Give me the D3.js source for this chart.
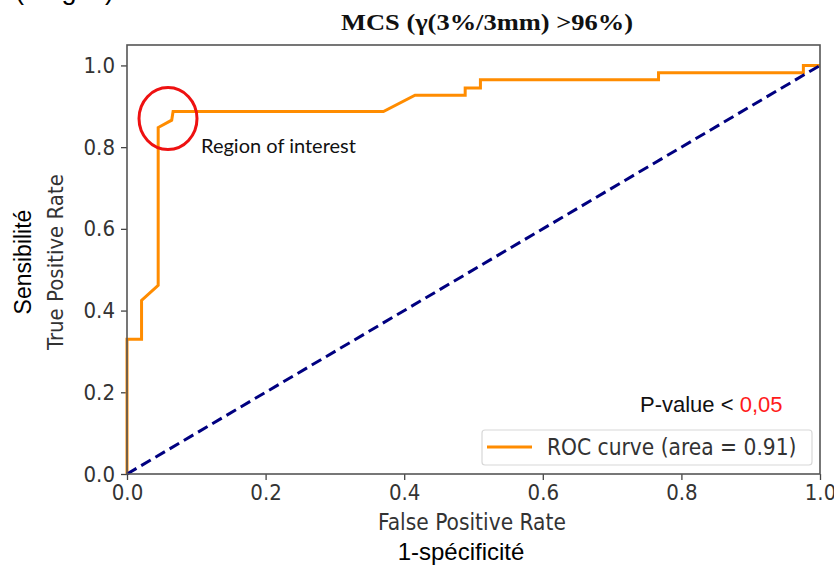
<!DOCTYPE html>
<html><head><meta charset="utf-8">
<script src="https://cdn.jsdelivr.net/npm/d3@7"></script>
<style>body{margin:0;background:#fff}svg{display:block}</style>
</head><body>
<svg id="c" width="834" height="572"></svg>
<script>
const fpr = [0, 0, 0.021, 0.021, 0.045, 0.045, 0.0645, 0.0665, 0.37, 0.4156, 0.488, 0.488, 0.51, 0.51, 0.767, 0.767, 0.976, 0.976, 1.0];
const tpr = [0, 0.33, 0.33, 0.425, 0.462, 0.848, 0.866, 0.887, 0.887, 0.927, 0.927, 0.945, 0.945, 0.965, 0.965, 0.982, 0.982, 1.0, 1.0];
const diagX = [0, 1];
const diagY = [0, 1];
const xTicks = [0, 0.2, 0.4, 0.6, 0.8, 1.0];
const yTicks = [0, 0.2, 0.4, 0.6, 0.8, 1.0];
const roi = {x: 0.0635, y: 0.865};

const svg = d3.select("#c");
const L = 127, R = 820, T = 45, B = 474;
const x = d3.scaleLinear().domain([0, 1]).range([L, R]);
const y = d3.scaleLinear().domain([0, 1.05]).range([B, T]);
const tickFont = "'DejaVu Sans Condensed','DejaVu Sans',sans-serif";
const arial = "'Liberation Sans', Arial, sans-serif";

// top-left text, cut by the top edge as in the reference
svg.append("text").attr("x", 15).attr("y", -1).attr("font-family", arial).attr("font-size", 27).attr("fill", "#000").text("(ou gris)");

// title
svg.append("text").attr("x", 487).attr("y", 30).attr("text-anchor", "middle")
  .attr("font-family", "'Liberation Serif','DejaVu Serif',serif").attr("font-weight", "bold")
  .attr("font-size", 24).attr("textLength", 292).attr("lengthAdjust", "spacingAndGlyphs")
  .attr("fill", "#111").text("MCS (γ(3%/3mm) >96%)");

// axes
const xAxis = d3.axisBottom(x).tickValues(xTicks).tickFormat(d3.format(".1f")).tickSize(6).tickPadding(4);
const yAxis = d3.axisLeft(y).tickValues(yTicks).tickFormat(d3.format(".1f")).tickSize(6).tickPadding(6);
const gx = svg.append("g").attr("transform", `translate(0,${B})`).call(xAxis);
const gy = svg.append("g").attr("transform", `translate(${L},0)`).call(yAxis);
[gx, gy].forEach(g => {
  g.select(".domain").remove();
  g.selectAll(".tick line").attr("stroke", "#444").attr("stroke-width", 1.3);
  g.selectAll(".tick text").attr("fill", "#333").attr("font-family", tickFont).attr("font-size", 22);
});
gx.selectAll(".tick text").attr("dy", "0.72em");

// ROC line
const line = d3.line().x(i => x(fpr[i])).y(i => y(tpr[i]));
svg.append("path").attr("d", line(d3.range(fpr.length))).attr("fill", "none")
  .attr("stroke", "#ff8c00").attr("stroke-width", 3).attr("stroke-linejoin", "miter");

// diagonal
const dline = d3.line().x(i => x(diagX[i])).y(i => y(diagY[i]));
svg.append("path").attr("d", dline([0, 1])).attr("fill", "none")
  .attr("stroke", "#000080").attr("stroke-width", 3).attr("stroke-dasharray", "11,5.5");

// frame
svg.append("rect").attr("x", L).attr("y", T).attr("width", R - L).attr("height", B - T)
  .attr("fill", "none").attr("stroke", "#555").attr("stroke-width", 1.6);

// region of interest
svg.append("ellipse").attr("cx", x(roi.x) - 3).attr("cy", y(roi.y) - 2).attr("rx", 29).attr("ry", 31)
  .attr("fill", "none").attr("stroke", "#ee1111").attr("stroke-width", 3);
svg.append("text").attr("x", 201).attr("y", 153).attr("font-family", "Lato, 'Open Sans', sans-serif")
  .attr("font-size", 20).attr("fill", "#111").text("Region of interest");

// p-value
const pt = svg.append("text").attr("x", 640).attr("y", 412).attr("font-family", arial).attr("font-size", 22);
pt.append("tspan").attr("fill", "#111").text("P-value < ");
pt.append("tspan").attr("fill", "#ff1a1a").text("0,05");

// legend
svg.append("rect").attr("x", 482).attr("y", 430).attr("width", 330).attr("height", 35).attr("rx", 3)
  .attr("fill", "#fff").attr("stroke", "#d8d8d8").attr("stroke-width", 1.2);
svg.append("line").attr("x1", 487).attr("x2", 532).attr("y1", 447).attr("y2", 447)
  .attr("stroke", "#ff8c00").attr("stroke-width", 3);
svg.append("text").attr("x", 547).attr("y", 455).attr("font-family", tickFont).attr("font-size", 22.5)
  .attr("fill", "#333").text("ROC curve (area = 0.91)");

// axis labels
svg.append("text").attr("x", 472).attr("y", 530).attr("text-anchor", "middle").attr("font-family", tickFont)
  .attr("font-size", 22.5).attr("fill", "#333").text("False Positive Rate");
svg.append("text").attr("x", 461).attr("y", 560).attr("text-anchor", "middle").attr("font-family", arial)
  .attr("font-size", 24).attr("fill", "#000").text("1-spécificité");
svg.append("text").attr("transform", "translate(63,262) rotate(-90)").attr("text-anchor", "middle").attr("font-family", tickFont)
  .attr("font-size", 22).attr("fill", "#333").text("True Positive Rate");
svg.append("text").attr("transform", "translate(31,262) rotate(-90)").attr("text-anchor", "middle").attr("font-family", arial)
  .attr("font-size", 23).attr("fill", "#000").text("Sensibilité");
</script>
</body></html>
